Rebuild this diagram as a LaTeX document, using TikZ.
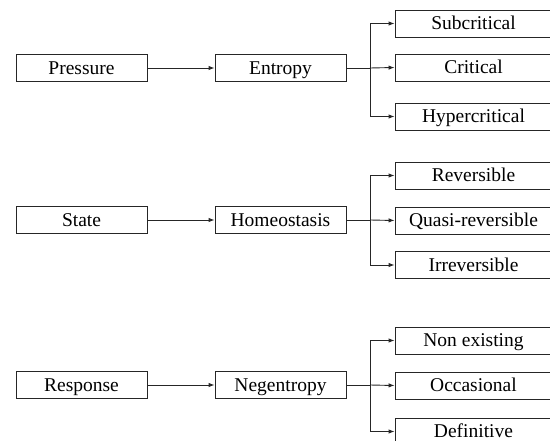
\documentclass[tikz,border=0pt]{standalone}
\usepackage{fontspec}
\setmainfont{Liberation Serif}
\usetikzlibrary{arrows.meta}
\begin{document}
\begin{tikzpicture}[x=1pt,y=-1pt,
  box/.style={draw=black!85, line width=0.9pt, minimum width=131pt, minimum height=27pt, inner sep=0pt, text height=12.7pt, text depth=0pt, font=\fontsize{19.5}{21}\selectfont},
  rbox/.style={box, minimum width=157pt},
  conn/.style={draw=black!85, line width=0.9pt},
  arr/.style={conn, -{Latex[length=6pt,width=4.5pt]}}]
\useasboundingbox (0,0) rectangle (550,441);
\clip (0,0) rectangle (550,441);
% row 1
\node[box] (pre) at (81.5,68) {Pressure};
\node[box] (ent) at (280.5,68) {Entropy};
\node[rbox] (sub) at (473.5,23.5) {Subcritical};
\node[rbox] (cri) at (473.5,67.5) {Critical};
\node[rbox] (hyp) at (473.5,116.5) {Hypercritical};
\coordinate (b1) at (370,68);
\draw[arr] (pre) -- (ent);
\draw[conn] (ent.east) -- (b1);
\draw[arr] (b1) |- (sub.west);
\draw[arr] (b1) -- (cri.west);
\draw[arr] (b1) |- (hyp.west);
% row 2
\node[box] (sta) at (81.5,220) {State};
\node[box] (hom) at (280.5,220) {Homeostasis};
\node[rbox] (rev) at (473.5,175.5) {Reversible};
\node[rbox] (qua) at (473.5,220.5) {Quasi-reversible};
\node[rbox] (irr) at (473.5,265) {Irreversible};
\coordinate (b2) at (370,220);
\draw[arr] (sta) -- (hom);
\draw[conn] (hom.east) -- (b2);
\draw[arr] (b2) |- (rev.west);
\draw[arr] (b2) -- (qua.west);
\draw[arr] (b2) |- (irr.west);
% row 3
\node[box] (res) at (81.5,385) {Response};
\node[box] (neg) at (280.5,385) {Negentropy};
\node[rbox] (non) at (473.5,340.5) {Non existing};
\node[rbox] (occ) at (473.5,385.5) {Occasional};
\node[rbox] (def) at (473.5,431.5) {Definitive};
\coordinate (b3) at (370,385);
\draw[arr] (res) -- (neg);
\draw[conn] (neg.east) -- (b3);
\draw[arr] (b3) |- (non.west);
\draw[arr] (b3) -- (occ.west);
\draw[arr] (b3) |- (def.west);
\end{tikzpicture}
\end{document}
